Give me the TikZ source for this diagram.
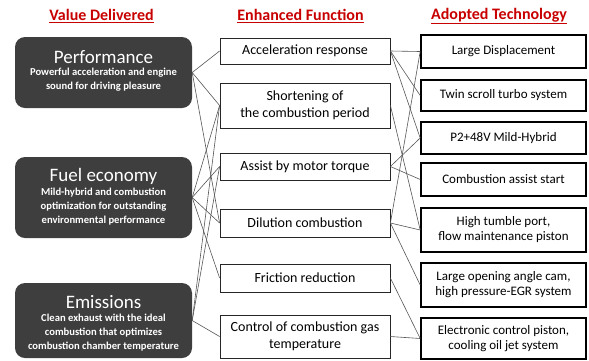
\documentclass[tikz,border=0pt]{standalone}
\usepackage{fontspec}
\setmainfont{Carlito}
\definecolor{hdrred}{RGB}{200,0,0}
\definecolor{boxgray}{RGB}{62,62,62}
\definecolor{linkgray}{RGB}{85,85,85}

\tikzset{
	header/.style={text=hdrred,font=\fontsize{16}{18}\selectfont\bfseries,inner sep=0pt},
	valuebox/.style={fill=boxgray,rounded corners=10pt,minimum width=177pt,inner sep=0pt},
	valtitle/.style={text=white,font=\fontsize{19}{21}\selectfont,inner sep=0pt},
	valtext/.style={text=white,font=\fontsize{10.6}{14}\selectfont\bfseries,align=center,inner sep=0pt},
	funcbox/.style={draw=black!85,line width=0.8pt,fill=white,minimum width=170pt,font=\fontsize{14}{17}\selectfont,align=center,inner sep=0pt},
	techbox/.style={draw=black,line width=1.6pt,fill=white,minimum width=165pt,font=\fontsize{13}{15}\selectfont,align=center,inner sep=0pt},
	link/.style={draw=linkgray,line width=0.6pt}
}

\begin{document}
\begin{tikzpicture}[x=1pt,y=-1pt]
	\useasboundingbox (0,0) rectangle (589,360);
	
	%HEADERS
	\node[header] (hvalue) at (101.5,16) {\underline{Value Delivered}};
	\node[header] (hfunc) at (300.5,16) {\underline{Enhanced Function}};
	\node[header] (htech) at (499,16) {\underline{Adopted Technology}};
	
	%VALUE DELIVERED
	\node[valuebox,minimum height=71pt] (perf) at (103.5,72.5) {};
	\node[valtitle] (perftitle) at (103.5,57) {Performance};
	\node[valtext] (perftext) at (103.5,80) {Powerful acceleration and engine\\sound for driving pleasure};
	
	\node[valuebox,minimum height=81pt] (fuel) at (103.5,197.5) {};
	\node[valtitle] (fueltitle) at (103.5,176) {Fuel economy};
	\node[valtext] (fueltext) at (103.5,207) {Mild-hybrid and combustion\\optimization for outstanding\\environmental performance};
	
	\node[valuebox,minimum height=75pt] (emis) at (103.5,320.5) {};
	\node[valtitle] (emistitle) at (103.5,302) {Emissions};
	\node[valtext] (emistext) at (103.5,333) {Clean exhaust with the ideal\\combustion that optimizes\\combustion chamber temperature};
	
	%ENHANCED FUNCTION
	\node[funcbox,minimum height=26pt] (accel) at (305,51) {Acceleration response};
	\node[funcbox,minimum height=45pt] (short) at (305,105.5) {Shortening of\\the combustion period};
	\node[funcbox,minimum height=27pt] (assist) at (305,166.5) {Assist by motor torque};
	\node[funcbox,minimum height=28pt] (dilution) at (305,223) {Dilution combustion};
	\node[funcbox,minimum height=28pt] (friction) at (305,278) {Friction reduction};
	\node[funcbox,minimum height=43pt] (control) at (305,336.5) {Control of combustion gas\\temperature};
	
	%ADOPTED TECHNOLOGY
	\node[techbox,minimum height=33pt] (ld) at (503.5,51.5) {Large Displacement};
	\node[techbox,minimum height=31pt] (twin) at (503.5,95.5) {Twin scroll turbo system};
	\node[techbox,minimum height=32pt] (p2) at (503.5,138) {P2+48V Mild-Hybrid};
	\node[techbox,minimum height=33pt] (cassist) at (503.5,179.5) {Combustion assist start};
	\node[techbox,minimum height=44pt] (tumble) at (503.5,230) {High tumble port,\\flow maintenance piston};
	\node[techbox,minimum height=44pt] (opencam) at (503.5,285) {Large opening angle cam,\\high pressure-EGR system};
	\node[techbox,minimum height=41pt] (ecpiston) at (503.5,338.5) {Electronic control piston,\\cooling oil jet system};
	
	%LINKS VALUE -> FUNCTION
	\foreach \a/\b in {perf/accel,perf/short,perf/dilution,
		fuel/short,fuel/assist,fuel/dilution,fuel/friction,
		emis/short,emis/assist,emis/control}
		\draw[link] (\a.east) -- (\b.west);
	
	%LINKS FUNCTION -> TECHNOLOGY
	\foreach \a/\b in {accel/ld,accel/twin,accel/p2,short/tumble,
		assist/p2,assist/cassist,
		dilution/ld,dilution/tumble,dilution/opencam,
		friction/ecpiston,control/ecpiston}
		\draw[link] (\a.east) -- (\b.west);
\end{tikzpicture}
\end{document}
